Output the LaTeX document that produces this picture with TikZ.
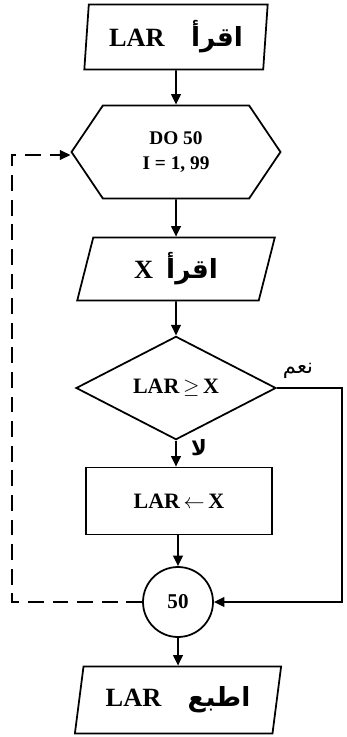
\documentclass[tikz,border=0pt]{standalone}
\usepackage{fontspec}
\setmainfont{Liberation Serif}
\newfontfamily\arabicfont[Script=Arabic]{DejaVu Sans}
\TeXXeTstate=1
\usetikzlibrary{shapes.geometric,shapes.symbols,arrows.meta}

\begin{document}
\begin{tikzpicture}[x=0.02cm, y=-0.02cm, line width=1pt,
    iobox/.style={draw, trapezium, trapezium stretches=true, trapezium left angle=76,
      trapezium right angle=104, minimum height=1.3cm, minimum width=4.1cm, inner sep=0pt,
      font=\fontsize{15}{17}\selectfont\bfseries},
    loopbox/.style={draw, signal, signal to=west and east, signal pointer angle=112,
      minimum height=1.86cm, minimum width=4.18cm, inner sep=0pt, align=center,
      font=\fontsize{11}{14}\selectfont\bfseries},
    testbox/.style={draw, diamond, minimum width=4cm, minimum height=1.82cm,
      inner sep=0pt, font=\fontsize{12.5}{14}\selectfont\bfseries},
    setbox/.style={draw, rectangle, minimum width=3.72cm, minimum height=1.34cm,
      font=\fontsize{12.5}{14}\selectfont\bfseries},
    joinbox/.style={draw, circle, minimum size=1.4cm, inner sep=0pt,
      font=\fontsize{12}{14}\selectfont\bfseries},
    flow/.style={-{Triangle[length=6pt,width=5.5pt]}},
    back/.style={flow, dash pattern=on 9pt off 5pt}]
        \useasboundingbox (0,0) rectangle (346,737);

        % boxes
        \node[iobox, trapezium left angle=84, trapezium right angle=96, minimum width=3.7cm] (readlar)
          at (176,37) {\beginR{\arabicfont اقرأ}\quad\beginL LAR\endL\endR};
        \node[loopbox] (doloop) at (176,152) {DO 50\\I = 1, 99};
        \node[iobox, minimum width=3.96cm, minimum height=1.26cm] (readx)
          at (176,269) {\beginR{\arabicfont اقرأ}\ \ \beginL X\endL\endR};
        \node[testbox] (cmp) at (176,388) {LAR\,$\geq$\,X};
        \node[setbox] (setlar) at (179,501) {LAR\,$\leftarrow$\,X};
        \node[joinbox] (j50) at (178,602) {50};
        \node[iobox, minimum width=4.14cm, minimum height=1.34cm] (printlar)
          at (178,700) {\beginR{\arabicfont اطبع}\quad\beginL LAR\endL\endR};

        % labels
        \node[font=\large] (yes) at (298,371) {\beginR{\arabicfont نعم}\endR};
        \node[font=\large\bfseries] (no) at (199,448) {\beginR{\arabicfont لا}\endR};

        \coordinate (yr) at (342,388);
        \coordinate (yb) at (342,602);
        \coordinate (bl) at (12,602);
        \coordinate (tl) at (12,155);

        % arrows
        \draw[flow] (readlar) -- (doloop);
        \draw[flow] (doloop) -- (readx);
        \draw[flow] (readx) -- (cmp);
        \draw[flow] (cmp.south) -- (cmp.south |- setlar.north);
        \draw[flow] (setlar.south -| j50) -- (j50);
        \draw[flow] (j50) -- (printlar);
        \draw[flow] (cmp.east) -- (yr) -- (yb) -- (j50.east);
        \draw[back] (j50.west) -- (bl) -- (tl) -- (doloop.west |- tl);
      \end{tikzpicture}
\end{document}
